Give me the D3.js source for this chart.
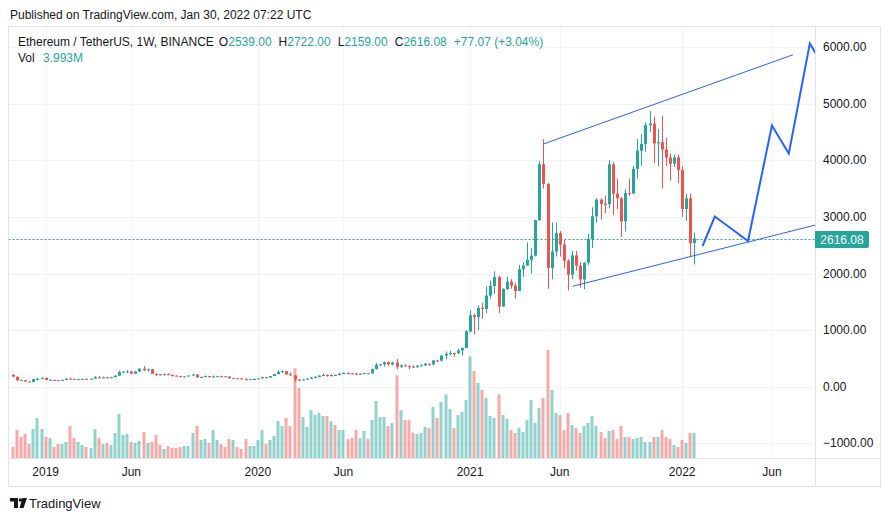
<!DOCTYPE html>
<html>
<head>
<meta charset="utf-8">
<script src="https://cdn.jsdelivr.net/npm/d3@7"></script>
<style>
  body { margin: 0; background: #fff; }
  text { font-family: "Liberation Sans", Arial, sans-serif; }
</style>
</head>
<body>
<div id="chart"></div>
<script>
// Weekly ETH/USDT bars (Binance), week of 2018-11-12 to week of 2022-01-24
const firstWeek = "2018-11-12";
const lastWeek = "2022-01-24";
const firstOpen = 211;
const closes = [
  176,116,113,92,84,132,138,157,117,120,
  115,107,119,143,138,131,134,138,136,141,
  164,161,165,156,170,197,262,268,270,231,
  269,318,292,307,227,220,206,222,208,195,
  188,178,181,198,215,168,171,189,171,182,
  186,185,180,150,151,148,133,132,134,136,
  147,167,161,189,223,260,274,218,200,124,
  122,125,143,158,172,197,207,186,207,206,
  231,242,235,228,225,230,239,236,310,386,
  395,433,392,428,353,376,370,355,351,372,
  378,406,396,464,460,550,575,596,590,640,
  685,975,1262,1230,1390,1375,1610,1780,1935,1417,
  1725,1856,1785,1690,2075,2140,2240,2316,2945,3930,
  3580,2100,2390,2712,2510,2225,1980,2320,2137,1895,
  2190,2610,3010,3305,3230,3225,3930,3410,3330,2920,
  3420,3414,3850,4170,4290,4620,4650,4300,4320,4190,
  4050,3940,4050,3830,3140,3330,2539,2616.08
];
const highs = [
  223,179,124,118,95,145,158,162,160,131,
  124,116,123,146,165,141,140,141,143,149,
  186,187,180,176,175,200,286,270,289,275,
  280,323,366,320,315,236,222,230,238,215,
  203,193,184,199,225,216,182,197,190,198,
  191,197,190,183,158,152,151,150,135,145,
  148,180,171,189,225,290,287,279,253,201,
  140,140,150,175,187,199,227,217,215,216,
  247,253,250,241,248,234,246,240,324,415,
  400,445,444,440,488,395,395,373,375,380,
  395,420,410,470,475,560,622,637,600,675,
  690,1000,1350,1290,1440,1480,1770,1875,2040,1960,
  1740,1945,1900,1830,2150,2200,2550,2450,2950,3990,
  4372,3600,2900,2900,2750,2600,2250,2400,2400,2200,
  2200,2700,3170,3330,3330,3375,4000,3970,3680,3350,
  3490,3680,3900,4380,4460,4670,4870,4770,4550,4780,
  4400,4120,4100,4100,3900,3410,3414,2722
];
const lows = [
  168,100,102,83,82,83,111,130,117,115,
  112,101,102,117,133,128,125,130,131,132,
  140,155,160,150,150,165,190,236,240,226,
  230,262,277,270,222,188,200,200,205,175,
  184,166,168,175,195,153,163,166,160,155,
  176,180,175,140,137,144,130,116,123,126,
  135,142,155,160,185,220,244,211,192,86,
  107,121,124,143,149,167,190,181,180,196,
  197,228,215,224,219,216,226,229,232,305,
  366,355,372,375,308,330,360,308,333,335,
  360,365,370,374,435,445,480,555,530,577,
  550,680,965,925,1000,1200,1300,1560,1640,1300,
  1410,1715,1731,1550,1690,1935,2140,2000,2300,2930,
  3500,1730,1900,2300,2300,2090,1700,1900,2050,1750,
  1720,2150,2450,2900,2950,3060,3150,3030,3140,2650,
  2740,3370,3400,3680,3900,4150,4500,3950,3900,3500,
  3900,3640,3880,3600,3000,2930,2300,2159
];
// volume, millions of ETH
const volumes = [
  1.78,4.46,3.36,3.83,2.26,4.62,6.36,4.62,3.36,3.20,
  1.78,2.26,2.26,2.57,5.09,3.20,2.57,2.10,1.78,1.62,
  4.62,3.20,2.26,2.41,2.10,3.99,6.99,3.68,3.83,2.57,
  2.41,2.73,4.15,2.41,2.57,3.68,2.10,1.47,1.94,1.62,
  1.62,1.78,1.94,1.94,3.99,5.09,2.89,3.04,2.41,4.46,
  2.89,2.26,1.78,3.04,2.89,1.78,1.47,3.04,1.94,1.94,
  2.89,4.46,2.26,2.89,3.52,5.88,5.09,6.36,5.09,14.2,
  11.1,6.51,4.94,7.62,6.83,7.15,6.67,6.67,5.88,5.25,
  4.46,4.46,3.04,3.20,4.46,3.20,4.31,3.04,6.04,9.04,
  6.51,6.51,5.09,5.57,13.1,7.62,6.04,6.04,3.99,3.83,
  3.99,4.94,4.78,8.09,6.36,8.88,10.1,7.78,4.78,6.83,
  7.30,9.20,16.1,13.8,11.9,10.8,9.51,6.67,6.36,10.1,
  6.83,6.20,4.46,3.99,4.78,4.15,6.04,9.20,5.57,7.93,
  9.51,17.1,10.8,7.15,6.83,4.46,7.15,5.25,4.78,3.99,
  5.09,5.57,6.67,5.09,4.15,3.20,4.31,4.46,3.04,5.09,
  3.36,3.36,3.04,3.20,3.36,2.57,2.57,3.36,3.36,4.46,
  3.36,3.04,2.10,1.78,2.89,2.41,3.99,3.993
];

const priceTicks = [-1000, 0, 1000, 2000, 3000, 4000, 5000, 6000];
const timeTicks = ["2019-01-07", "2019-06-03", "2020-01-06", "2020-06-01",
                   "2021-01-04", "2021-06-07", "2022-01-03", "2022-06-06"];
const timeLabels = ["2019", "Jun", "2020", "Jun", "2021", "Jun", "2022", "Jun"];

// drawings: [date, price]
const upperChannel = [["2021-05-10", 4288], ["2022-07-12", 5864]];
const lowerChannel = [["2021-06-29", 1774], ["2022-09-13", 2920]];
const projection = [["2022-02-07", 2486], ["2022-02-28", 3007], ["2022-04-26", 2574],
                    ["2022-06-06", 4615], ["2022-07-05", 4120], ["2022-08-10", 6064],
                    ["2022-08-24", 5825]];

const lastPrice = 2616.08;

const W = 890, H = 521;
const frame = { left: 8.5, top: 26.5, right: 880.5, bottom: 486.5 };
const plotRight = 815.5, plotBottom = 458.5;

const up = "#26a69a", down = "#ef5350";
const gridColor = "#f0f3fa", borderColor = "#e0e3eb", textColor = "#131722";

const weeks = d3.utcMonday.range(new Date(firstWeek), d3.utcDay.offset(new Date(lastWeek), 1));
const bars = weeks.map((d, i) => ({
  date: d,
  open: i === 0 ? firstOpen : closes[i - 1],
  high: highs[i], low: lows[i], close: closes[i], vol: volumes[i]
}));

const x = d3.scaleUtc()
  .domain([new Date(firstWeek), new Date(lastWeek)])
  .range([13, 694.4]);
const y = d3.scaleLinear().domain([0, 6000]).range([386.7, 47.1]);
const yVol = d3.scaleLinear().domain([0, d3.max(volumes)]).range([458.3, 350]);

const svg = d3.select("#chart").append("svg")
  .attr("width", W).attr("height", H)
  .style("display", "block");

svg.append("rect").attr("width", W).attr("height", H).attr("fill", "#fff");

// header
svg.append("text").attr("x", 10).attr("y", 19)
  .attr("font-size", 12).attr("fill", textColor)
  .text("Published on TradingView.com, Jan 30, 2022 07:22 UTC");

svg.append("defs").append("clipPath").attr("id", "plot")
  .append("rect")
  .attr("x", frame.left).attr("y", frame.top)
  .attr("width", plotRight - frame.left).attr("height", plotBottom - frame.top);

// grid
const grid = svg.append("g");
grid.selectAll("line.h").data(priceTicks).enter().append("line")
  .attr("x1", frame.left).attr("x2", plotRight)
  .attr("y1", d => Math.round(y(d)) + 0.5).attr("y2", d => Math.round(y(d)) + 0.5)
  .attr("stroke", gridColor);
grid.selectAll("line.v").data(timeTicks).enter().append("line")
  .attr("y1", frame.top).attr("y2", plotBottom)
  .attr("x1", d => Math.round(x(new Date(d))) + 0.5).attr("x2", d => Math.round(x(new Date(d))) + 0.5)
  .attr("stroke", gridColor);

const plot = svg.append("g").attr("clip-path", "url(#plot)");

// volume
plot.selectAll("rect.vol").data(bars).enter().append("rect")
  .attr("x", d => Math.round(x(d.date)) - 1.5)
  .attr("width", 3)
  .attr("y", d => yVol(d.vol))
  .attr("height", d => yVol(0) - yVol(d.vol))
  .attr("fill", d => d.close >= d.open ? up : down)
  .attr("fill-opacity", 0.5);

// last price line
plot.append("line")
  .attr("x1", frame.left).attr("x2", plotRight)
  .attr("y1", Math.round(y(lastPrice)) + 0.5).attr("y2", Math.round(y(lastPrice)) + 0.5)
  .attr("stroke", up).attr("stroke-dasharray", "2,2");

// candles
const candle = plot.selectAll("g.candle").data(bars).enter().append("g")
  .attr("fill", d => d.close >= d.open ? up : down)
  .attr("stroke", d => d.close >= d.open ? up : down);
candle.append("line")
  .attr("x1", d => Math.round(x(d.date)) + 0.5).attr("x2", d => Math.round(x(d.date)) + 0.5)
  .attr("y1", d => y(d.high)).attr("y2", d => y(d.low));
candle.append("rect")
  .attr("stroke", "none")
  .attr("x", d => Math.round(x(d.date)) - 1)
  .attr("width", 3)
  .attr("y", d => y(Math.max(d.open, d.close)))
  .attr("height", d => Math.max(1, Math.abs(y(d.open) - y(d.close))));

// drawings
const line = d3.line().x(d => x(new Date(d[0]))).y(d => y(d[1]));
plot.append("path").attr("d", line(upperChannel))
  .attr("fill", "none").attr("stroke", "#2962ff").attr("stroke-width", 1);
plot.append("path").attr("d", line(lowerChannel))
  .attr("fill", "none").attr("stroke", "#2962ff").attr("stroke-width", 1);
plot.append("path").attr("d", line(projection))
  .attr("fill", "none").attr("stroke", "#2962ff").attr("stroke-width", 2)
  .attr("stroke-linejoin", "miter");

// frame
svg.append("rect")
  .attr("x", frame.left).attr("y", frame.top)
  .attr("width", frame.right - frame.left).attr("height", frame.bottom - frame.top)
  .attr("fill", "none").attr("stroke", borderColor);
svg.append("line").attr("x1", plotRight).attr("x2", plotRight)
  .attr("y1", frame.top).attr("y2", frame.bottom).attr("stroke", borderColor);
svg.append("line").attr("x1", frame.left).attr("x2", frame.right)
  .attr("y1", plotBottom).attr("y2", plotBottom).attr("stroke", borderColor);

// price axis
svg.append("g").selectAll("text").data(priceTicks).enter().append("text")
  .attr("x", 823).attr("y", d => y(d) + 4)
  .attr("font-size", 12).attr("fill", textColor)
  .text(d => d3.format(".2f")(d).replace("-", "\u2212"));

const tag = svg.append("g").attr("transform", `translate(815,${Math.round(y(lastPrice)) - 8})`);
tag.append("path")
  .attr("d", "M0,0 H52 Q54,0 54,2 V15 Q54,17 52,17 H0 Z")
  .attr("fill", up);
tag.append("text").attr("x", 27).attr("y", 12.5)
  .attr("text-anchor", "middle").attr("font-size", 12).attr("fill", "#fff")
  .text(d3.format(".2f")(lastPrice));

// time axis
svg.append("g").selectAll("text").data(timeTicks).enter().append("text")
  .attr("x", d => x(new Date(d))).attr("y", 476)
  .attr("text-anchor", "middle").attr("font-size", 12).attr("fill", textColor)
  .text((d, i) => timeLabels[i]);

// legend: label/value pairs laid out one after another
const legendParts = [
  ["Ethereum / TetherUS, 1W, BINANCE", textColor, 5],
  ["O", textColor, 0], ["2539.00", up, 7],
  ["H", textColor, 0], ["2722.00", up, 7],
  ["L", textColor, 0], ["2159.00", up, 7],
  ["C", textColor, 0], ["2616.08", up, 7],
  ["+77.07 (+3.04%)", up, 0]
];
let lx = 18;
legendParts.forEach(p => {
  const t = svg.append("text").attr("x", lx).attr("y", 46)
    .attr("font-size", 12).attr("fill", p[1]).text(p[0]);
  lx += t.node().getComputedTextLength() + p[2];
});

svg.append("text").attr("x", 18).attr("y", 62).attr("font-size", 12)
  .attr("fill", textColor).text("Vol");
svg.append("text").attr("x", 43).attr("y", 62).attr("font-size", 12)
  .attr("fill", up).text("3.993M");

// TradingView logo
const logo = svg.append("g").attr("fill", textColor);
logo.append("path").attr("d", "M10,498 H18 V508 H14 V501.5 H10 Z");
logo.append("circle").attr("cx", 20.5).attr("cy", 500).attr("r", 1.8);
logo.append("path").attr("d", "M22.5,498 H27 L23.5,508 H19.5 Z");
svg.append("text").attr("x", 29).attr("y", 508)
  .attr("font-size", 13).attr("fill", textColor)
  .text("TradingView");
</script>
</body>
</html>
